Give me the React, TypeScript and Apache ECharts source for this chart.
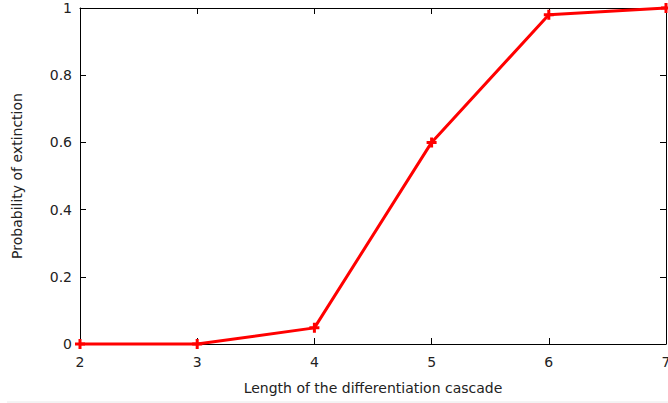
import React, { useEffect, useRef } from "react";
import * as echarts from "echarts";

const cascadeLengths = [2, 3, 4, 5, 6, 7];
const extinctionProb = [0, 0, 0.048, 0.6, 0.98, 1];
const xTitle = "Length of the differentiation cascade";
const yTitle = "Probability of extinction";

const FONT = "DejaVu Sans";
const TXT = "#222";
const plusPath = "path://M-1.2,-4L1.2,-4L1.2,-1.2L4,-1.2L4,1.2L1.2,1.2L1.2,4L-1.2,4L-1.2,1.2L-4,1.2L-4,-1.2L-1.2,-1.2Z";

export default function App() {
  const ref = useRef<HTMLDivElement>(null);
  useEffect(() => {
    if (!ref.current) return;
    const chart = echarts.init(ref.current, null, { renderer: "svg", width: 668, height: 403 });
    const axisLine = { show: true, onZero: false, lineStyle: { color: "#000", width: 1 } };
    const tick = { show: true, inside: true, length: 6, lineStyle: { color: "#000", width: 1 } };
    chart.setOption({
      animation: false,
      backgroundColor: "#fff",
      graphic: [
        {
          type: "line",
          shape: { x1: 7, y1: 402, x2: 668, y2: 402 },
          style: { stroke: "#e8e8e8", lineWidth: 1 },
          silent: true,
        },
      ],
      grid: { left: 80, right: 2, top: 8, bottom: 59, containLabel: false, outerBoundsMode: "none" },
      xAxis: [
        {
          type: "value",
          min: 2,
          max: 7,
          interval: 1,
          position: "bottom",
          name: xTitle,
          nameLocation: "middle",
          nameGap: 37,
          nameTextStyle: { fontFamily: FONT, fontSize: 14, color: TXT },
          axisLine,
          axisTick: tick,
          axisLabel: { fontFamily: FONT, fontSize: 14, color: TXT, margin: 11 },
          splitLine: { show: false },
        },
        {
          type: "value",
          min: 2,
          max: 7,
          interval: 1,
          position: "top",
          axisLine,
          axisTick: tick,
          axisLabel: { show: false },
          splitLine: { show: false },
        },
      ],
      yAxis: [
        {
          type: "value",
          min: 0,
          max: 1,
          interval: 0.2,
          position: "left",
          name: yTitle,
          nameLocation: "middle",
          nameGap: 56,
          nameTextStyle: { fontFamily: FONT, fontSize: 14, color: TXT },
          axisLine,
          axisTick: tick,
          axisLabel: {
            fontFamily: FONT,
            fontSize: 14,
            color: TXT,
            margin: 8,
            formatter: (v: number) => String(Math.round(v * 10) / 10),
          },
          splitLine: { show: false },
        },
        {
          type: "value",
          min: 0,
          max: 1,
          interval: 0.2,
          position: "right",
          axisLine,
          axisTick: tick,
          axisLabel: { show: false },
          splitLine: { show: false },
        },
      ],
      series: [
        {
          type: "line",
          data: cascadeLengths.map((x, i) => [x, extinctionProb[i]]),
          lineStyle: { color: "#ff0000", width: 3 },
          itemStyle: { color: "#ff0000" },
          symbol: plusPath,
          symbolSize: 10,
          showSymbol: true,
          clip: false,
        },
      ],
    });
    return () => chart.dispose();
  }, []);
  return <div ref={ref} style={{ width: 668, height: 403, position: "fixed", left: 0, top: 0 }} />;
}
